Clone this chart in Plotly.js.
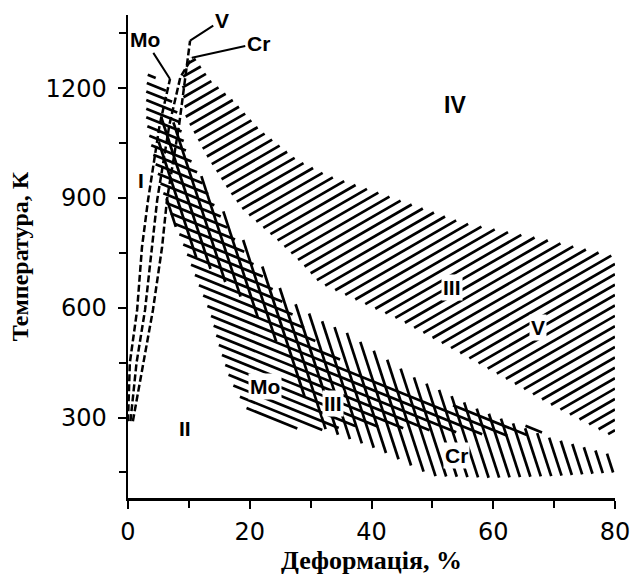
<!DOCTYPE html>
<html>
<head>
<meta charset="utf-8">
<script src="https://cdn.plot.ly/plotly-3.0.1.min.js"></script>
<style>
  html, body { margin: 0; padding: 0; background: #fff; }
  #chart { width: 640px; height: 578px; }
</style>
</head>
<body>
<div id="chart"></div>
<script>
// Deformation (%) vs temperature (K): structural regions for Mo, V and Cr

const xRange = [0, 80];
const yRange = [80, 1400];
const xTickVals = [0, 20, 40, 60, 80];
const xTickText = ['0', '20', '40', '60', '80'];
const yTickVals = [300, 600, 900, 1200];
const yTickText = ['300', '600', '900', '1200'];

// Region III of V: upper edge, then lower edge (left -> right)
const vUpperX = [8.8, 10.5, 13.5, 17.2, 21.7, 27.8, 33.0, 41.4, 55.0, 68.8, 80.0];
const vUpperT = [1220, 1295, 1222, 1168, 1086, 1004, 960, 913, 832, 785, 740];
const vLowerX = [9.5, 13.0, 16.8, 18.9, 24.5, 28.3, 31.5, 37.0, 44.7, 53.0, 61.0, 70.0, 80.0];
const vLowerT = [1120, 1012, 914, 867, 785, 725, 667, 625, 566, 490, 416, 330, 245];

// Region III of Mo: upper/right edge, then lower/left edge (left -> right)
const moUpperX = [3.3, 5.5, 8.0, 9.5, 13.5, 16.8, 21.7, 26.6, 31.0, 38.0, 50.0, 60.0, 66.0, 68.5];
const moUpperT = [1245, 1215, 1140, 1030, 900, 804, 695, 590, 505, 420, 350, 302, 274, 262];
const moLowerX = [3.0, 3.0, 4.0, 5.0, 6.2, 8.0, 11.3, 13.5, 15.0, 16.8, 19.5, 25.0, 31.0, 38.0, 46.0, 55.0, 62.0, 67.0];
const moLowerT = [1200, 1110, 1030, 960, 890, 820, 676, 586, 493, 402, 325, 275, 264, 278, 270, 258, 250, 253];

// Region III of Cr: upper/right edge, then lower/left edge (left -> right)
const crUpperX = [5.5, 8.0, 9.5, 13.0, 17.0, 21.7, 26.6, 31.0, 36.0, 46.8, 57.8, 68.8, 80.0];
const crUpperT = [1130, 1100, 1040, 930, 830, 720, 620, 570, 531, 411, 320, 247, 195];
const crLowerX = [5.0, 5.5, 7.0, 9.7, 14.0, 18.0, 22.0, 26.6, 28.5, 30.4, 33.0, 41.4, 50.0, 60.0, 70.0, 80.0];
const crLowerT = [1050, 960, 850, 758, 700, 640, 560, 457, 380, 293, 262, 211, 140, 135, 140, 150];

// Boundary of region I for each metal (dashed)
const moLineX = [0.0, 0.3, 1.5, 2.3, 3.3, 5.2, 6.9];
const moLineT = [290, 449, 594, 766, 895, 1100, 1225];
const crLineX = [0.4, 1.4, 2.8, 3.9, 4.8, 6.8, 8.6, 10.5];
const crLineT = [290, 449, 594, 766, 895, 1100, 1230, 1283];
const vLineX = [0.8, 2.5, 4.1, 5.6, 6.4, 8.4, 9.6, 10.2];
const vLineT = [290, 449, 594, 766, 895, 1100, 1250, 1330];

// Region labels
const regionText = ['IV', 'III', 'V', 'Mo', 'III', 'Cr', 'II', 'I'];
const regionX = [53.7, 53.2, 67.4, 22.5, 33.7, 54.0, 9.4, 2.2];
const regionT = [1154, 654, 547, 386, 337, 195, 271, 949];
const regionBg = [false, true, true, true, true, true, false, false];

// Metal labels at the top of the dashed boundaries
const metalText = ['Mo', 'V', 'Cr'];
const metalX = [2.8, 15.4, 21.4];
const metalT = [1332, 1386, 1323];

const W = 640, H = 578;
const margin = { l: 128, r: 25, t: 15, b: 80 };
const plotW = W - margin.l - margin.r;
const plotH = H - margin.t - margin.b;

function toPx(x, t) {
  return [(x - xRange[0]) / (xRange[1] - xRange[0]) * plotW,
          (yRange[1] - t) / (yRange[1] - yRange[0]) * plotH];
}
function toData(px, py) {
  return [xRange[0] + px / plotW * (xRange[1] - xRange[0]),
          yRange[1] - py / plotH * (yRange[1] - yRange[0])];
}

// Closed outline from an upper edge and a lower edge, both given left -> right
function outline(ux, ut, lx, lt) {
  return { x: ux.concat(lx.slice().reverse()), t: ut.concat(lt.slice().reverse()) };
}

// Parallel hatch lines clipped to a polygon; angle in degrees on screen, spacing in px
function hatch(poly, angleDeg, spacing) {
  const P = poly.x.map((x, i) => toPx(x, poly.t[i]));
  const a = angleDeg * Math.PI / 180;
  const d = [Math.cos(a), -Math.sin(a)];
  const n = [-d[1], d[0]];
  const proj = P.map(p => p[0] * n[0] + p[1] * n[1]);
  const lo = Math.min(...proj), hi = Math.max(...proj);
  const xs = [], ts = [];
  for (let c = Math.ceil(lo / spacing) * spacing; c <= hi; c += spacing) {
    const hits = [];
    for (let i = 0; i < P.length; i++) {
      const j = (i + 1) % P.length;
      const s1 = proj[i] - c, s2 = proj[j] - c;
      if ((s1 < 0) !== (s2 < 0)) {
        const f = s1 / (s1 - s2);
        const qx = P[i][0] + f * (P[j][0] - P[i][0]);
        const qy = P[i][1] + f * (P[j][1] - P[i][1]);
        hits.push(qx * d[0] + qy * d[1]);
      }
    }
    hits.sort((u, v) => u - v);
    for (let k = 0; k + 1 < hits.length; k += 2) {
      [hits[k], hits[k + 1]].forEach(s => {
        const p = toData(n[0] * c + d[0] * s, n[1] * c + d[1] * s);
        xs.push(p[0]); ts.push(p[1]);
      });
      xs.push(null); ts.push(null);
    }
  }
  return { x: xs, t: ts };
}

function hatchTrace(h, name) {
  return {
    type: 'scatter', mode: 'lines', name: name,
    x: h.x, y: h.t, connectgaps: false,
    line: { color: '#000', width: 2.7 },
    hoverinfo: 'skip', showlegend: false
  };
}

function dashedTrace(x, t, name) {
  return {
    type: 'scatter', mode: 'lines', name: name,
    x: x, y: t,
    line: { color: '#000', width: 2.5, dash: '7px,3px' },
    hoverinfo: 'skip', showlegend: false
  };
}

const vPoly = outline(vUpperX, vUpperT, vLowerX, vLowerT);
const moPoly = outline(moUpperX, moUpperT, moLowerX, moLowerT);
const crPoly = outline(crUpperX, crUpperT, crLowerX, crLowerT);

const traces = [
  hatchTrace(hatch(vPoly, 30, 9), 'V III'),
  hatchTrace(hatch(moPoly, -22, 8), 'Mo III'),
  hatchTrace(hatch(crPoly, -72, 10), 'Cr III'),
  dashedTrace(moLineX, moLineT, 'Mo I'),
  dashedTrace(crLineX, crLineT, 'Cr I'),
  dashedTrace(vLineX, vLineT, 'V I')
];

const labelFont = { family: 'Liberation Sans, Arial, sans-serif', size: 21, color: '#000', weight: 'bold' };

const annotations = regionText.map((s, i) => ({
  x: regionX[i], y: regionT[i], xref: 'x', yref: 'y',
  text: s, showarrow: false,
  font: Object.assign({}, labelFont, { size: s === 'IV' ? 23 : 21 }),
  bgcolor: regionBg[i] ? '#fff' : 'rgba(0,0,0,0)', borderpad: 1
}));

const lineEnds = [
  [moLineX[moLineX.length - 1], moLineT[moLineT.length - 1]],
  [vLineX[vLineX.length - 1], vLineT[vLineT.length - 1]],
  [crLineX[crLineX.length - 1], crLineT[crLineT.length - 1]]
];
metalText.forEach((s, i) => {
  annotations.push({
    x: lineEnds[i][0], y: lineEnds[i][1], xref: 'x', yref: 'y',
    ax: metalX[i], ay: metalT[i], axref: 'x', ayref: 'y',
    text: s, showarrow: true, arrowhead: 0, arrowwidth: 2, arrowcolor: '#000',
    font: Object.assign({}, labelFont, { size: 21 }), standoff: 0, startstandoff: 0
  });
});

const tickFont = { family: 'DejaVu Sans, sans-serif', size: 24, color: '#000' };

const layout = {
  width: W, height: H,
  margin: margin,
  paper_bgcolor: '#fff', plot_bgcolor: '#fff',
  showlegend: false,
  xaxis: {
    range: xRange, tickmode: 'array', tickvals: xTickVals, ticktext: xTickText,
    ticks: 'outside', ticklen: 8, tickwidth: 2, tickcolor: '#000',
    showline: true, linewidth: 2.5, linecolor: '#000',
    showgrid: false, zeroline: false, tickfont: tickFont, ticklabelstandoff: 3,
    minor: { dtick: 10, tick0: 0, ticks: 'outside', ticklen: 7, tickwidth: 2, tickcolor: '#000', showgrid: false },
    title: { text: 'Деформація, %', standoff: 0,
             font: { family: 'Liberation Serif, Times New Roman, serif', size: 26, color: '#000', weight: 'bold' } },
    fixedrange: true
  },
  yaxis: {
    range: yRange, tickmode: 'array', tickvals: yTickVals, ticktext: yTickText,
    ticks: 'outside', ticklen: 8, tickwidth: 2, tickcolor: '#000',
    showline: true, linewidth: 2.5, linecolor: '#000',
    showgrid: false, zeroline: false, tickfont: tickFont, ticklabelstandoff: 6,
    minor: { dtick: 150, tick0: 0, ticks: 'outside', ticklen: 7, tickwidth: 2, tickcolor: '#000', showgrid: false },
    title: { text: 'Температура, К', standoff: 10,
             font: { family: 'Liberation Serif, Times New Roman, serif', size: 24, color: '#000', weight: 'bold' } },
    fixedrange: true
  },
  annotations: annotations
};

Plotly.newPlot('chart', traces, layout, { staticPlot: true, displayModeBar: false });
</script>
</body>
</html>
